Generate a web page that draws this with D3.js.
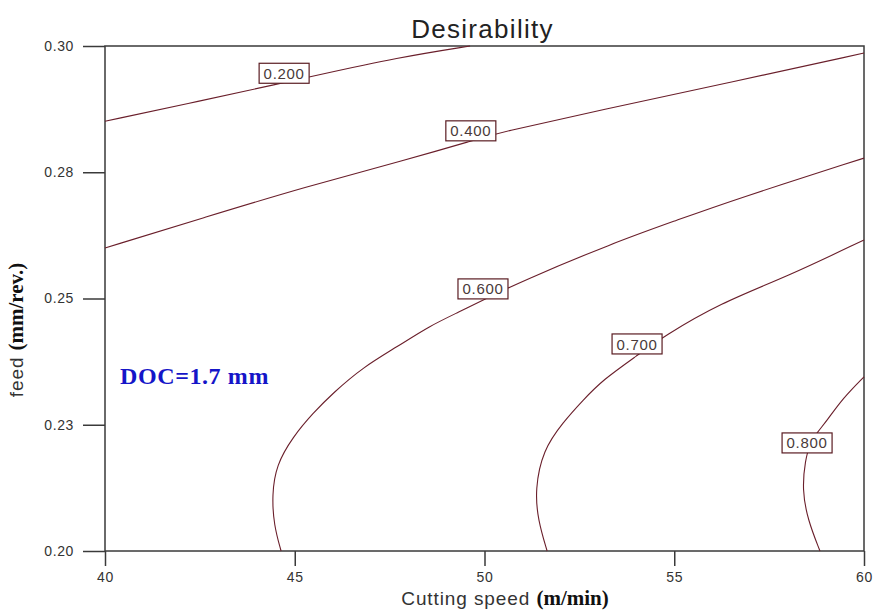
<!DOCTYPE html>
<html>
<head>
<meta charset="utf-8">
<script src="https://cdn.jsdelivr.net/npm/d3@7"></script>
<style>
  body { margin: 0; background: #fff; }
  svg { display: block; }
</style>
</head>
<body>
<svg width="874" height="615"></svg>
<script>
// axis ranges and ticks
var speedDomain = [40, 60],
    feedDomain = [0.20, 0.30];
var speedTicks = [40, 45, 50, 55, 60];
var feedTicks = [0.20, 0.225, 0.25, 0.275, 0.30];
var feedTickLabels = ["0.20", "0.23", "0.25", "0.28", "0.30"];

// contour lines: [speed, feed]
var c200 = [[40, 0.2851], [42.50, 0.2891], [44.69, 0.2927], [45.40, 0.2939], [47.77, 0.2978], [49.62, 0.3000]];
var c400 = [[40, 0.2600], [42.64, 0.2661], [45.27, 0.2721], [47.91, 0.2774], [49.75, 0.2814], [50.36, 0.2828],
            [53.04, 0.2873], [56.55, 0.2929], [60, 0.2986]];
var c600 = [[44.64, 0.2000], [44.45, 0.2051], [44.40, 0.2111], [44.51, 0.2170], [44.95, 0.2226], [45.48, 0.2273],
            [46.01, 0.2313], [46.80, 0.2364], [47.69, 0.2404], [48.56, 0.2446], [49.35, 0.2474], [49.96, 0.2497],
            [50.94, 0.2533], [53.39, 0.2610], [55.07, 0.2655], [56.55, 0.2695], [60, 0.2778]];
var c700 = [[51.65, 0.2000], [51.41, 0.2061], [51.33, 0.2121], [51.54, 0.2200], [52.07, 0.2255], [52.60, 0.2299],
            [53.12, 0.2339], [54.04, 0.2388], [54.70, 0.2424], [56.21, 0.2491], [57.97, 0.2543], [60, 0.2616]];
var c800 = [[58.84, 0.2000], [58.52, 0.2061], [58.37, 0.2121], [58.45, 0.2180], [58.58, 0.2214], [58.76, 0.2234],
            [59.03, 0.2259], [59.45, 0.2303], [60, 0.2345]];

var levels = ["0.200", "0.400", "0.600", "0.700", "0.800"];
var contours = [c200, c400, c600, c700, c800];
// where each level label sits: [speed, feed]
var labelSpots = [[44.72, 0.2946], [49.64, 0.2832], [49.96, 0.2519], [54.02, 0.2410], [58.50, 0.2214]];

var svg = d3.select("svg");
var margin = {left: 105, right: 10, top: 46, bottom: 64};
var width = 874 - margin.left - margin.right,
    height = 615 - margin.top - margin.bottom;

var x = d3.scaleLinear().domain(speedDomain).range([margin.left, margin.left + width]);
var y = d3.scaleLinear().domain(feedDomain).range([margin.top + height, margin.top]);

var lineColor = "#6a1f2b",
    axisColor = "#3a3a3a",
    sans = "Liberation Sans, Arial, sans-serif",
    serif = "Liberation Serif, Times New Roman, serif";

// style the tick marks and labels like the original
function styleAxis(g) {
    g.select(".domain").remove();
    g.selectAll(".tick line").attr("stroke", axisColor).attr("stroke-width", 1.5);
    g.selectAll(".tick text")
        .attr("fill", "#333")
        .style("font-family", sans)
        .style("font-size", "14px")
        .style("letter-spacing", "0.6px");
}

// frame
svg.append("rect")
    .attr("x", x(40)).attr("y", y(0.30))
    .attr("width", x(60) - x(40)).attr("height", y(0.20) - y(0.30))
    .attr("fill", "none").attr("stroke", axisColor).attr("stroke-width", 1.5);

// axes
svg.append("g")
    .attr("transform", "translate(0," + y(0.20) + ")")
    .call(d3.axisBottom(x).tickValues(speedTicks).tickSize(15).tickPadding(6).tickSizeOuter(0))
    .call(styleAxis);

svg.append("g")
    .attr("transform", "translate(" + x(40) + ",0)")
    .call(d3.axisLeft(y).tickValues(feedTicks).tickSize(22).tickPadding(9)
        .tickFormat(function(d, i) { return feedTickLabels[i]; }).tickSizeOuter(0))
    .call(styleAxis);

// contour lines (smoothed through the read points)
var line = d3.line()
    .x(function(d) { return x(d[0]); })
    .y(function(d) { return y(d[1]); })
    .curve(d3.curveBasis);

svg.append("g")
  .selectAll("path")
  .data(contours)
  .enter().append("path")
    .attr("d", line)
    .attr("fill", "none")
    .attr("stroke", lineColor)
    .attr("stroke-width", 1.1);

// level labels
var lab = svg.append("g")
  .selectAll("g")
  .data(levels)
  .enter().append("g")
    .attr("transform", function(d, i) { return "translate(" + x(labelSpots[i][0]) + "," + y(labelSpots[i][1]) + ")"; });

lab.append("rect")
    .attr("x", -25).attr("y", -10).attr("width", 50).attr("height", 20)
    .attr("fill", "#fff").attr("stroke", "#5a1c22").attr("stroke-width", 1.2);

lab.append("text")
    .attr("text-anchor", "middle")
    .attr("dy", "0.37em")
    .style("font-family", sans)
    .style("font-size", "15px")
    .style("letter-spacing", "0.7px")
    .style("fill", "#4a3a3a")
    .text(function(d) { return d; });

// title
svg.append("text")
    .attr("x", x(50) - 2).attr("y", 38)
    .attr("text-anchor", "middle")
    .style("font-family", sans)
    .style("font-size", "26px")
    .style("letter-spacing", "1.3px")
    .style("fill", "#222")
    .text("Desirability");

// x label
var xl = svg.append("text")
    .attr("x", 505).attr("y", 605)
    .attr("text-anchor", "middle")
    .style("fill", "#333");
xl.append("tspan")
    .style("font-family", sans)
    .style("font-size", "19px")
    .style("letter-spacing", "0.9px")
    .text("Cutting speed ");
xl.append("tspan")
    .style("font-family", serif)
    .style("font-weight", "bold")
    .style("font-size", "21px")
    .style("fill", "#111")
    .text("(m/min)");

// y label
var yl = svg.append("text")
    .attr("transform", "translate(23,330) rotate(-90)")
    .attr("text-anchor", "middle")
    .style("fill", "#333");
yl.append("tspan")
    .style("font-family", sans)
    .style("font-size", "19px")
    .style("letter-spacing", "0.9px")
    .text("feed ");
yl.append("tspan")
    .style("font-family", serif)
    .style("font-weight", "bold")
    .style("font-size", "21px")
    .style("fill", "#111")
    .text("(mm/rev.)");

// annotation
svg.append("text")
    .attr("x", 120).attr("y", 384)
    .style("font-family", serif)
    .style("font-weight", "bold")
    .style("font-size", "24px")
    .style("letter-spacing", "0.6px")
    .style("fill", "#1515c8")
    .text("DOC=1.7 mm");
</script>
</body>
</html>
